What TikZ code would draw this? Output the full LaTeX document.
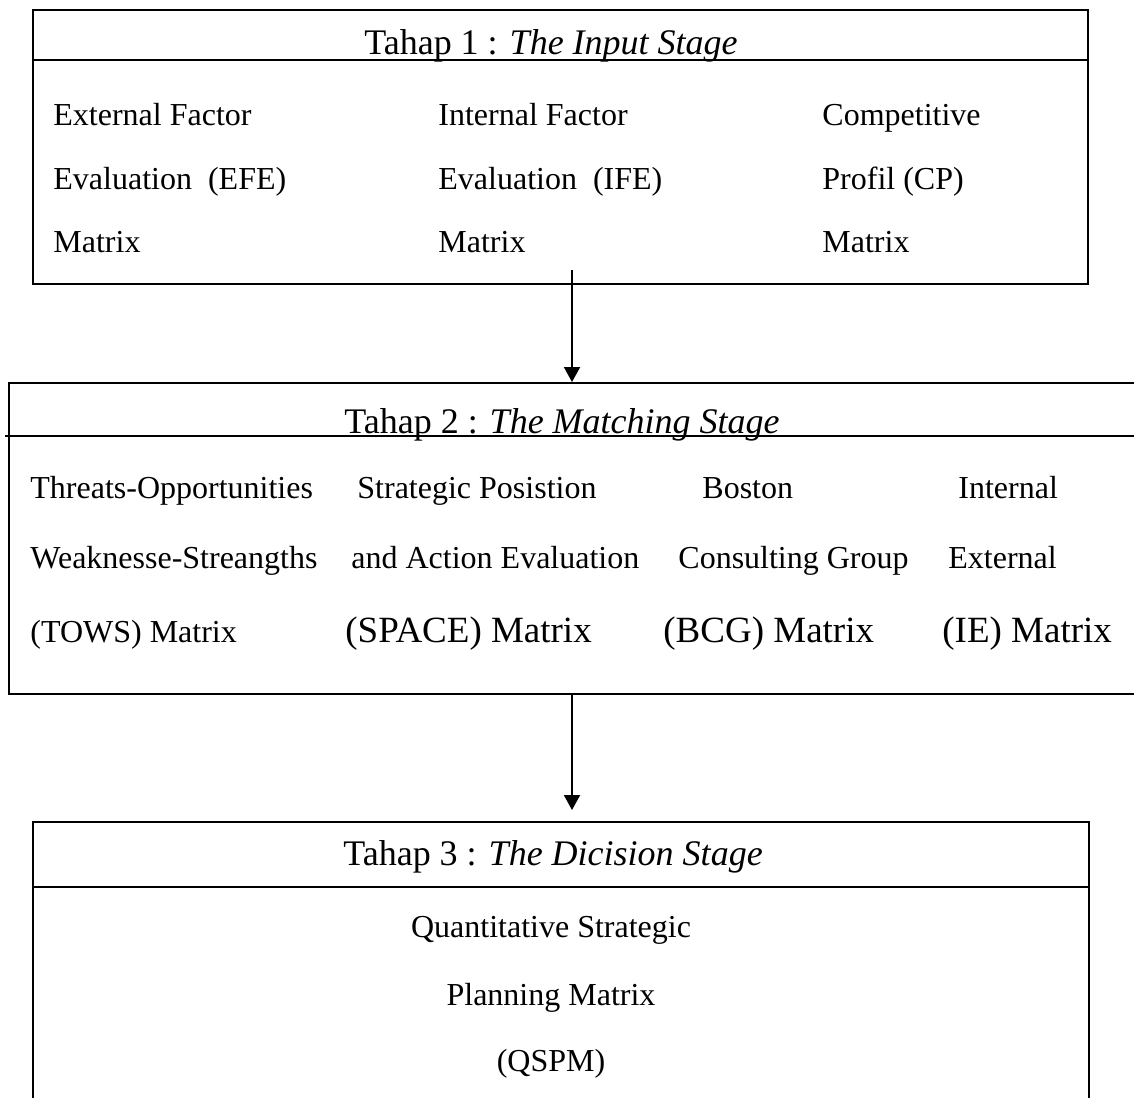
\documentclass[tikz,border=0pt]{standalone}
\usepackage{fontspec}
\setmainfont{Liberation Serif}
\usepackage{tikz}
\usetikzlibrary{arrows.meta}
\tikzset{%
  frame/.style = {rectangle,draw,line width=1pt,anchor=north west,inner sep=0pt},
  txt/.style = {anchor=base west,inner sep=0pt,font=\fontsize{16}{19}\selectfont},
  big/.style = {anchor=base west,inner sep=0pt,font=\fontsize{18.5}{22}\selectfont},
  head/.style = {anchor=base,inner sep=0pt,font=\fontsize{18}{22}\selectfont},
  mid/.style = {anchor=base,inner sep=0pt,font=\fontsize{16}{19}\selectfont},
  arr/.style = {-{Triangle[length=7.5pt,width=8pt]},line width=1pt}
}
\begin{document}
\begin{tikzpicture}[x=0.5pt,y=-0.5pt]
  \useasboundingbox (0,0) rectangle (1134,1097);
  % Tahap 1
  \node[frame,minimum width=527.5pt,minimum height=137pt] (input) at (32,9) {};
  \draw[line width=1pt] (32,60) -- (1087,60);
  \node[head] (t1) at (551,55) {Tahap 1 : \textit{The Input Stage}};
  \node[txt] (efe1) at (53,126) {External Factor};
  \node[txt] (efe2) at (53,189) {Evaluation\ \ (EFE)};
  \node[txt] (efe3) at (53,252) {Matrix};
  \node[txt] (ife1) at (438,126) {Internal Factor};
  \node[txt] (ife2) at (438,189) {Evaluation\ \ (IFE)};
  \node[txt] (ife3) at (438,252) {Matrix};
  \node[txt] (cp1) at (822,126) {Competitive};
  \node[txt] (cp2) at (822,189) {Profil (CP)};
  \node[txt] (cp3) at (822,252) {Matrix};
  % Tahap 2
  \node[frame,minimum width=566pt,minimum height=155.5pt] (match) at (8,382) {};
  \draw[line width=1pt] (5,436) -- (1140,436);
  \node[head] (t2) at (562,433) {Tahap 2 : \textit{The Matching Stage}};
  \node[txt] (tows1) at (30,498) {Threats-Opportunities};
  \node[txt] (tows2) at (30,568) {Weaknesse-Streangths};
  \node[txt] (tows3) at (30,642) {(TOWS) Matrix};
  \node[txt] (space1) at (357,498) {Strategic Posistion};
  \node[txt] (space2) at (351,568) {and Action Evaluation};
  \node[big] (space3) at (345,642) {(SPACE) Matrix};
  \node[txt] (bcg1) at (702,498) {Boston};
  \node[txt] (bcg2) at (678,568) {Consulting Group};
  \node[big] (bcg3) at (663,642) {(BCG) Matrix};
  \node[txt] (ie1) at (958,498) {Internal};
  \node[txt] (ie2) at (948,568) {External};
  \node[big] (ie3) at (942,642) {(IE) Matrix};
  % Tahap 3
  \node[frame,minimum width=528pt,minimum height=145pt] (decide) at (32,821) {};
  \draw[line width=1pt] (32,887) -- (1088,887);
  \node[head] (t3) at (553,865) {Tahap 3 : \textit{The Dicision Stage}};
  \node[mid] (qs1) at (551,937) {Quantitative Strategic};
  \node[mid] (qs2) at (551,1005) {Planning Matrix};
  \node[mid] (qs3) at (551,1071) {(QSPM)};
  % arrows
  \coordinate (a1) at (572,270);
  \coordinate (a2) at (572,810);
  \draw[arr] (a1) -- (a1 |- match.north);
  \draw[arr] (a1 |- match.south) -- (a2);
\end{tikzpicture}
\end{document}
